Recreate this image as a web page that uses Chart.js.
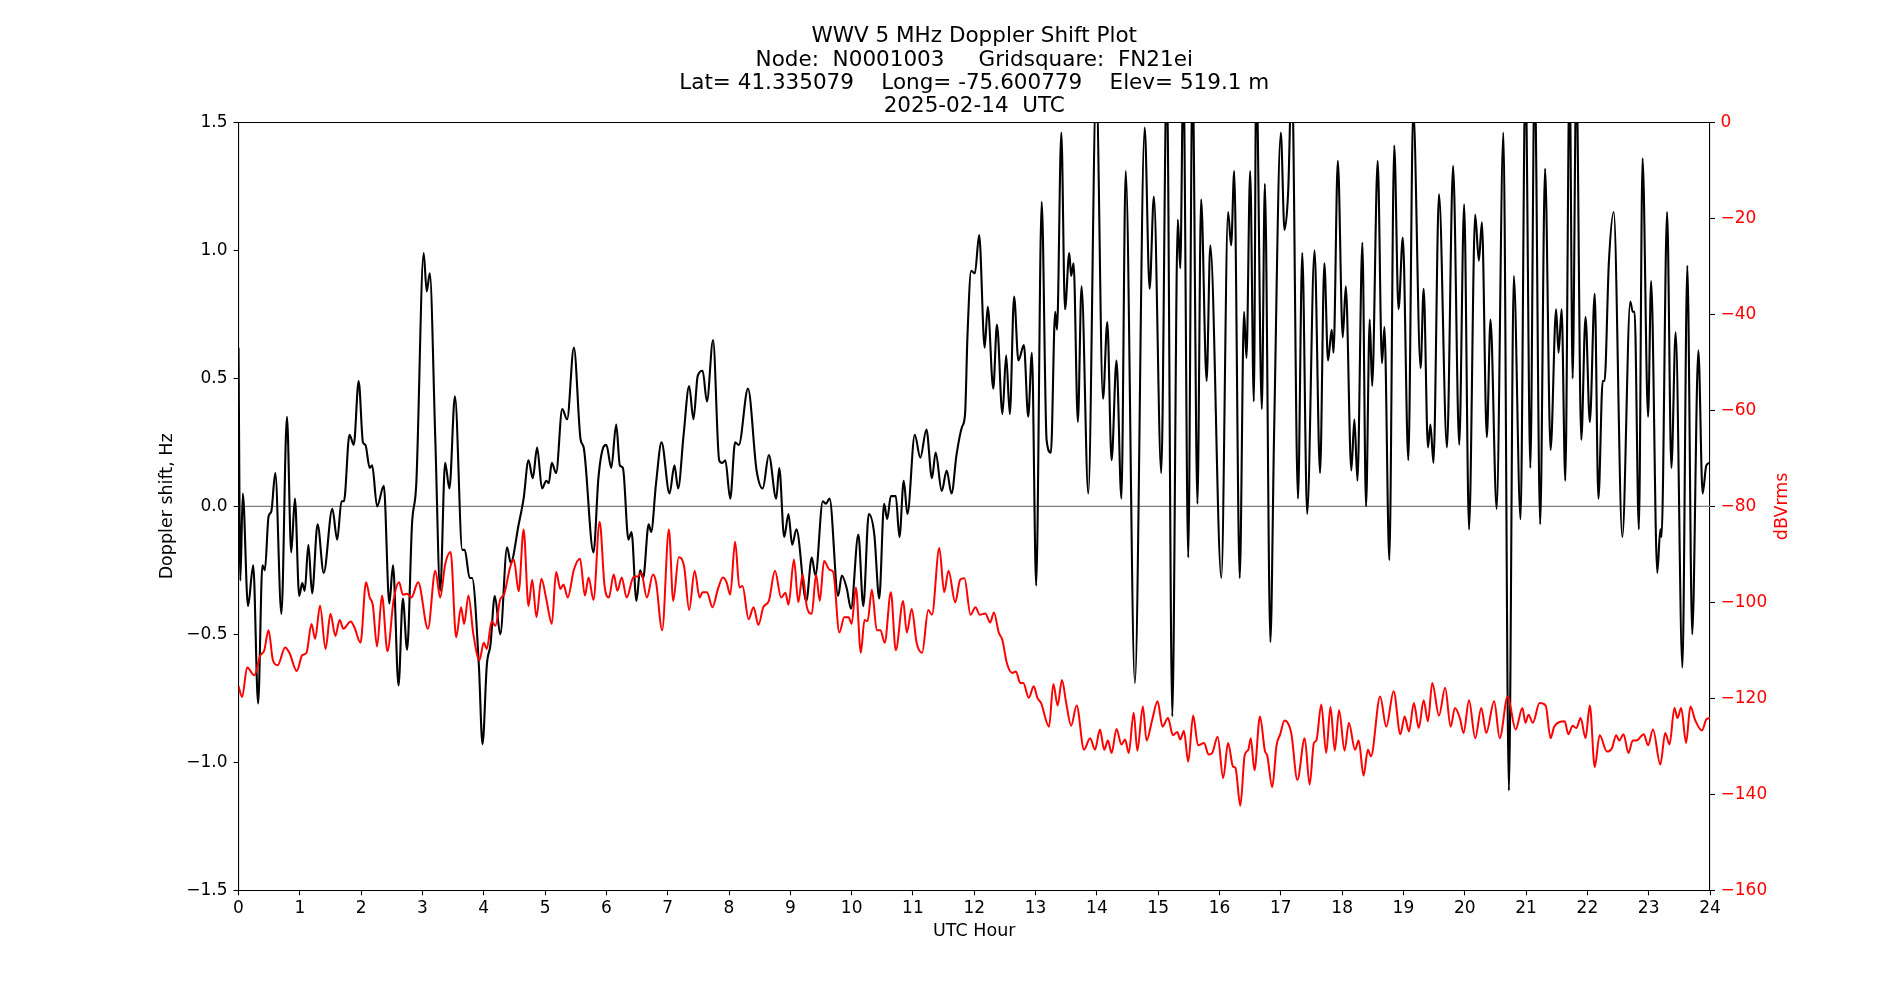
<!DOCTYPE html>
<html lang="en">
<head>
    <meta charset="UTF-8">
    <title>WWV 5 MHz Doppler Shift Plot</title>
    <script src="https://cdn.jsdelivr.net/npm/chart.js"></script>
    <style>
        body {
            margin: 0;
            background: #ffffff;
            overflow: hidden;
        }
        canvas {
            display: block;
        }
    </style>
</head>
<body>
    <canvas id="dopplerChart" width="1900" height="1000"></canvas>

    <script>
        // --- Data ---
        const titleLines = [
            'WWV 5 MHz Doppler Shift Plot',
            'Node:  N0001003     Gridsquare:  FN21ei',
            'Lat= 41.335079    Long= -75.600779    Elev= 519.1 m',
            '2025-02-14  UTC'
        ];
        const xAxisLabel = 'UTC Hour';
        const leftAxisLabel = 'Doppler shift, Hz';
        const rightAxisLabel = 'dBVrms';

        const dopplerHours = [
            0.00, 0.03, 0.07, 0.155, 0.24, 0.32, 0.39, 0.43, 0.49, 0.535, 0.60, 0.70, 0.79, 0.86, 0.92, 0.99,
            1.04, 1.08, 1.14, 1.20, 1.29, 1.39, 1.53, 1.61, 1.68, 1.72, 1.81, 1.88, 1.96,
            2.03, 2.07, 2.14, 2.18, 2.26, 2.37, 2.46, 2.52, 2.61, 2.68, 2.75, 2.83, 2.90,
            3.02, 3.07, 3.12, 3.21, 3.29, 3.37, 3.44, 3.53, 3.65, 3.69, 3.77, 3.81, 3.92, 3.98,
            4.05, 4.11, 4.18, 4.27, 4.38, 4.44, 4.57, 4.65, 4.73, 4.80, 4.87, 4.95,
            5.02, 5.06, 5.11, 5.18, 5.28, 5.36, 5.47, 5.58, 5.63, 5.79, 5.87, 5.95,
            6.00, 6.08, 6.16, 6.22, 6.27, 6.36, 6.41, 6.49, 6.55, 6.60, 6.69, 6.73, 6.81, 6.90,
            7.03, 7.11, 7.17, 7.26, 7.35, 7.42, 7.49, 7.57, 7.64, 7.74, 7.84, 7.89, 7.94,
            8.02, 8.10, 8.16, 8.31, 8.45, 8.55, 8.65, 8.77, 8.82, 8.90, 8.97,
            9.03, 9.10, 9.26, 9.35, 9.41, 9.53, 9.58, 9.64, 9.78, 9.84, 9.92, 9.99,
            10.11, 10.19, 10.28, 10.37, 10.45, 10.53, 10.58, 10.64, 10.72, 10.78, 10.85, 10.91,
            11.03, 11.12, 11.22, 11.31, 11.37, 11.47, 11.55, 11.63, 11.71, 11.80, 11.85, 11.89, 11.95,
            12.01, 12.08, 12.17, 12.22, 12.31, 12.37, 12.46, 12.52, 12.58, 12.65, 12.72, 12.81, 12.88, 12.94,
            13.01, 13.10, 13.18, 13.25, 13.32, 13.35, 13.42, 13.48, 13.55, 13.58, 13.62, 13.69, 13.75, 13.86, 13.99,
            14.10, 14.17, 14.24, 14.32, 14.40, 14.47, 14.62, 14.78, 14.86, 14.93,
            15.05, 15.14, 15.23, 15.32, 15.36, 15.41, 15.49, 15.56, 15.64, 15.70, 15.79, 15.85,
            16.03, 16.14, 16.19, 16.24, 16.33, 16.40, 16.44, 16.50, 16.56, 16.60, 16.69, 16.74, 16.83, 16.89,
            17.00, 17.06, 17.12, 17.18, 17.28, 17.35, 17.43, 17.55, 17.64, 17.71, 17.77, 17.83, 17.86, 17.93,
            18.01, 18.06, 18.15, 18.20, 18.25, 18.33, 18.39, 18.45, 18.49, 18.58, 18.65, 18.69, 18.77, 18.85, 18.92, 18.99,
            19.08, 19.16, 19.28, 19.33, 19.40, 19.44, 19.49, 19.58, 19.71, 19.81, 19.91, 19.99,
            20.07, 20.17, 20.23, 20.28, 20.36, 20.42, 20.52, 20.63, 20.72, 20.80, 20.91, 20.99,
            21.07, 21.14, 21.23, 21.31, 21.40, 21.49, 21.53, 21.58, 21.64, 21.71, 21.76, 21.82, 21.90, 21.97,
            22.04, 22.12, 22.18, 22.25, 22.28, 22.35, 22.43, 22.57, 22.70, 22.74, 22.77, 22.84, 22.90, 22.99,
            23.04, 23.14, 23.19, 23.21, 23.30, 23.37, 23.44, 23.55, 23.63, 23.71, 23.81, 23.88, 23.94, 24.00
        ];
        const dopplerHz = [
            0.62, -0.29, 0.05, -0.39, -0.23, -0.77, -0.23, -0.25, -0.04, -0.02, 0.13, -0.42, 0.35, -0.18, 0.03, -0.35,
            -0.30, -0.33, -0.15, -0.34, -0.07, -0.26, -0.01, -0.13, 0.02, 0.02, 0.28, 0.24, 0.49,
            0.25, 0.24, 0.15, 0.16, 0.00, 0.08, -0.38, -0.23, -0.70, -0.36, -0.56, -0.07, 0.09,
            0.99, 0.84, 0.91, 0.26, -0.33, 0.17, 0.07, 0.43, -0.17, -0.17, -0.28, -0.28, -0.62, -0.93,
            -0.62, -0.54, -0.35, -0.50, -0.16, -0.22, -0.07, 0.03, 0.18, 0.11, 0.23, 0.07,
            0.10, 0.09, 0.17, 0.13, 0.38, 0.34, 0.62, 0.26, 0.23, -0.18, 0.11, 0.23,
            0.24, 0.15, 0.32, 0.16, 0.15, -0.13, -0.10, -0.37, -0.25, -0.28, -0.07, -0.10, 0.09, 0.25,
            0.05, 0.16, 0.07, 0.28, 0.47, 0.34, 0.51, 0.53, 0.41, 0.65, 0.18, 0.17, 0.18,
            0.03, 0.25, 0.24, 0.46, 0.14, 0.07, 0.20, 0.03, 0.15, -0.12, -0.03,
            -0.15, -0.09, -0.37, -0.20, -0.27, 0.02, 0.01, 0.03, -0.35, -0.27, -0.32, -0.40,
            -0.11, -0.39, -0.03, -0.11, -0.36, 0.01, -0.05, 0.04, 0.04, -0.12, 0.10, -0.03,
            0.28, 0.19, 0.30, 0.11, 0.21, 0.06, 0.14, 0.05, 0.20, 0.31, 0.36, 0.67, 0.92,
            0.91, 1.06, 0.62, 0.78, 0.46, 0.71, 0.36, 0.59, 0.36, 0.82, 0.57, 0.63, 0.35, 0.60,
            -0.31, 1.19, 0.26, 0.21, 0.76, 0.69, 1.46, 0.77, 0.99, 0.90, 0.95, 0.33, 0.86, 0.05, 1.65,
            0.42, 0.72, 0.18, 0.57, 0.03, 1.31, -0.69, 1.48, 0.85, 1.21,
            0.13, 1.70, -0.82, 1.12, 0.93, 1.70, -0.20, 1.70, 0.01, 1.20, 0.49, 1.02,
            -0.28, 1.15, 1.02, 1.31, -0.28, 0.76, 0.58, 1.31, 0.41, 1.70, 0.38, 1.26, -0.53, 0.28,
            1.46, 1.08, 1.23, 1.70, 0.03, 0.99, -0.03, 1.00, 0.13, 0.95, 0.57, 0.69, 0.60, 1.35,
            0.66, 0.86, 0.14, 0.34, 0.10, 1.03, 0.00, 0.73, 0.47, 1.35, 0.56, 0.70, -0.21, 1.41, 0.77, 1.05,
            0.18, 1.55, 0.54, 0.85, 0.23, 0.32, 0.17, 1.22, 0.23, 1.33, 0.24, 1.18,
            -0.09, 1.14, 0.96, 1.11, 0.27, 0.73, -0.01, 1.46, -1.11, 0.90, -0.05, 1.70,
            0.15, 1.70, -0.07, 1.32, 0.22, 0.77, 0.60, 0.77, 0.10, 1.70, 0.50, 1.70, 0.26, 0.74,
            0.33, 0.83, 0.03, 0.49, 0.49, 0.95, 1.15, -0.12, 0.80, 0.76, 0.76, -0.09, 1.36, 0.35,
            0.88, -0.26, -0.09, -0.12, 1.15, 0.15, 0.68, -0.63, 0.94, -0.50, 0.61, 0.05, 0.16, 0.17
        ];

        const powerHours = [
            0.00, 0.06, 0.14, 0.26, 0.35, 0.42, 0.49, 0.56, 0.64, 0.76, 0.83, 0.95,
            1.04, 1.11, 1.19, 1.25, 1.33, 1.42, 1.50, 1.58, 1.65, 1.71, 1.83, 1.89, 1.99,
            2.08, 2.14, 2.19, 2.26, 2.34, 2.43, 2.53, 2.62, 2.68, 2.75, 2.82, 2.93,
            3.09, 3.21, 3.29, 3.37, 3.46, 3.55, 3.63, 3.68, 3.75, 3.83, 3.93,
            4.00, 4.05, 4.13, 4.19, 4.27, 4.33, 4.43, 4.49, 4.57, 4.65, 4.73, 4.79, 4.86, 4.94,
            5.02, 5.11, 5.18, 5.25, 5.30, 5.37, 5.47, 5.57, 5.65, 5.71, 5.79, 5.89, 5.97,
            6.04, 6.12, 6.18, 6.25, 6.33, 6.44, 6.51, 6.57, 6.66, 6.76, 6.81, 6.91,
            7.02, 7.09, 7.18, 7.27, 7.35, 7.44, 7.52, 7.57, 7.64, 7.73, 7.82, 7.90, 7.96,
            8.02, 8.10, 8.17, 8.22, 8.32, 8.40, 8.48, 8.56, 8.65, 8.75, 8.85, 8.92, 8.97,
            9.06, 9.13, 9.20, 9.27, 9.35, 9.42, 9.48, 9.55, 9.64, 9.70, 9.80, 9.88, 9.95,
            10.00, 10.07, 10.15, 10.21, 10.26, 10.33, 10.41, 10.47, 10.54, 10.64, 10.72, 10.84, 10.90, 10.98,
            11.06, 11.15, 11.25, 11.31, 11.43, 11.51, 11.58, 11.69, 11.77, 11.84, 11.94,
            12.02, 12.09, 12.18, 12.26, 12.32, 12.40, 12.46, 12.53, 12.62, 12.68, 12.75, 12.80, 12.89, 12.97,
            13.03, 13.09, 13.22, 13.29, 13.36, 13.43, 13.50, 13.58, 13.67, 13.79, 13.89, 13.97,
            14.05, 14.12, 14.18, 14.24, 14.32, 14.40, 14.46, 14.52, 14.60, 14.66, 14.75, 14.81, 14.90, 14.99,
            15.07, 15.16, 15.24, 15.31, 15.36, 15.42, 15.49, 15.57, 15.65, 15.75, 15.82, 15.88, 15.97,
            16.06, 16.14, 16.22, 16.26, 16.34, 16.41, 16.47, 16.51, 16.57, 16.66, 16.74, 16.78, 16.86, 16.93, 16.99,
            17.06, 17.17, 17.27, 17.39, 17.47, 17.54, 17.58, 17.66, 17.74, 17.81, 17.88, 17.95,
            18.04, 18.11, 18.21, 18.27, 18.35, 18.42, 18.47, 18.62, 18.72, 18.84, 18.95,
            19.02, 19.09, 19.17, 19.25, 19.33, 19.40, 19.47, 19.58, 19.68, 19.77, 19.84, 19.92, 19.98,
            20.07, 20.17, 20.27, 20.35, 20.48, 20.57, 20.70, 20.83, 20.94, 20.99,
            21.04, 21.11, 21.22, 21.32, 21.40, 21.46, 21.63, 21.69, 21.76, 21.82, 21.89, 21.97,
            22.04, 22.12, 22.20, 22.32, 22.40, 22.47, 22.52, 22.59, 22.67, 22.74, 22.80, 22.92, 22.99,
            23.07, 23.19, 23.27, 23.34, 23.42, 23.47, 23.53, 23.61, 23.68, 23.76, 23.87, 23.94, 24.00
        ];
        const powerDb = [
            -117.5, -119.7, -113.6, -115.2, -111.2, -110.0, -105.8, -112.0, -113.1, -109.4, -110.5, -114.3,
            -111.0, -110.5, -104.5, -107.6, -100.7, -109.7, -102.4, -107.0, -103.7, -105.5, -104.0, -105.2, -108.4,
            -95.8, -99.0, -100.5, -109.2, -98.6, -110.2, -99.5, -95.8, -98.4, -98.2, -99.0, -95.8,
            -105.5, -93.4, -99.0, -92.1, -89.5, -107.3, -101.0, -104.5, -98.6, -106.6, -112.0,
            -108.4, -109.7, -103.9, -104.9, -99.3, -98.4, -92.7, -91.1, -97.7, -84.8, -100.8, -95.3, -103.1, -95.1,
            -99.3, -104.5, -93.7, -97.2, -96.3, -99.0, -93.2, -90.9, -98.6, -94.8, -99.5, -83.2, -96.5,
            -99.0, -94.2, -97.6, -94.8, -99.0, -94.8, -94.6, -93.9, -99.0, -94.2, -95.8, -105.8,
            -84.8, -99.7, -90.6, -92.7, -101.6, -93.4, -99.0, -97.9, -97.9, -101.0, -97.2, -94.8, -95.8,
            -98.4, -87.4, -96.9, -96.6, -103.5, -101.0, -104.7, -101.0, -99.7, -93.4, -99.0, -98.0, -100.5,
            -91.1, -100.0, -94.2, -101.0, -102.4, -94.2, -99.7, -91.4, -93.2, -93.7, -106.3, -103.1, -103.1,
            -104.5, -96.9, -110.5, -103.7, -103.9, -97.4, -105.8, -105.8, -108.4, -97.9, -110.0, -99.7, -106.3, -101.4,
            -108.4, -110.5, -101.6, -102.6, -88.7, -97.9, -93.4, -100.0, -95.3, -95.0, -102.6,
            -101.0, -102.6, -102.3, -104.2, -102.1, -106.3, -107.9, -112.6, -114.7, -114.4, -116.8, -116.8, -119.9, -117.5,
            -119.9, -121.0, -125.9, -117.0, -121.5, -116.2, -121.0, -125.7, -121.5, -130.7, -128.3, -130.7,
            -126.5, -130.7, -128.8, -131.4, -126.4, -129.6, -128.6, -131.4, -123.0, -130.9, -121.7, -128.8, -124.6, -120.6,
            -125.9, -124.1, -127.7, -127.0, -128.6, -126.8, -133.2, -123.6, -129.8, -129.3, -131.7, -131.4, -128.0,
            -136.6, -129.3, -134.2, -134.5, -142.4, -131.9, -130.7, -128.3, -135.0, -123.8, -130.9, -132.0, -138.5, -129.8, -127.5,
            -124.6, -127.2, -137.0, -128.3, -138.0, -129.3, -128.8, -121.3, -131.4, -121.8, -130.9, -122.5,
            -130.9, -125.1, -130.7, -128.8, -136.1, -130.7, -132.1, -119.6, -125.9, -118.5, -127.5,
            -123.8, -126.9, -121.0, -126.2, -120.4, -124.8, -116.8, -123.6, -117.8, -125.9, -122.0, -124.1, -127.2,
            -120.4, -128.3, -122.0, -127.2, -120.6, -128.3, -119.6, -126.5, -122.0, -125.1,
            -123.4, -125.1, -121.0, -121.5, -128.3, -125.9, -124.8, -127.5, -125.7, -126.2, -124.1, -128.3,
            -121.5, -134.3, -127.7, -131.1, -130.4, -127.7, -128.8, -127.5, -131.4, -128.8, -128.8, -127.5, -129.8,
            -126.5, -133.8, -127.2, -129.6, -122.0, -124.1, -122.0, -129.3, -121.7, -124.6, -126.7, -124.4, -124.1
        ];

        // --- Chart setup ---
        const FONT = "'DejaVu Sans', sans-serif";
        Chart.defaults.font.family = FONT;
        Chart.defaults.color = '#000000';

        const toPoints = (xs, ys) => xs.map((x, i) => ({ x: x, y: ys[i] }));
        const fmtMinus = (v, digits) => (v < 0 ? '\u2212' : '') + Math.abs(v).toFixed(digits);

        // matplotlib puts the twin-axis label reading bottom-to-top, so draw it ourselves
        const rightLabelPlugin = {
            id: 'rightLabel',
            afterDraw(chart) {
                const { ctx, chartArea } = chart;
                ctx.save();
                ctx.translate(chartArea.right + 72.5, (chartArea.top + chartArea.bottom) / 2);
                ctx.rotate(-Math.PI / 2);
                ctx.fillStyle = '#ff0000';
                ctx.font = '17.5px ' + FONT;
                ctx.textAlign = 'center';
                ctx.textBaseline = 'middle';
                ctx.fillText(rightAxisLabel, 0, 0);
                ctx.restore();
            }
        };

        const ctx = document.getElementById('dopplerChart').getContext('2d');
        const chart = new Chart(ctx, {
            type: 'line',
            data: {
                datasets: [
                    {
                        label: 'dBVrms',
                        data: toPoints(powerHours, powerDb),
                        yAxisID: 'y2',
                        borderColor: '#ff0000',
                        borderWidth: 2,
                        pointRadius: 0,
                        cubicInterpolationMode: 'monotone',
                        order: 0
                    },
                    {
                        label: 'Doppler shift',
                        data: toPoints(dopplerHours, dopplerHz),
                        yAxisID: 'y',
                        borderColor: '#000000',
                        borderWidth: 2.1,
                        pointRadius: 0,
                        cubicInterpolationMode: 'monotone',
                        order: 1
                    },
                    {
                        label: 'zero',
                        data: [{ x: 0, y: 0 }, { x: 24, y: 0 }],
                        yAxisID: 'y',
                        borderColor: '#808080',
                        borderWidth: 1.2,
                        pointRadius: 0,
                        order: 2
                    }
                ]
            },
            options: {
                responsive: false,
                animation: false,
                devicePixelRatio: 1,
                layout: { padding: { left: 152.5, right: 90, top: 0, bottom: 54.1 } },
                plugins: {
                    legend: { display: false },
                    tooltip: { enabled: false },
                    title: {
                        display: true,
                        fullSize: false,
                        text: titleLines,
                        color: '#000000',
                        font: { size: 21.5, weight: 'normal', lineHeight: 23.3 / 21.5 },
                        padding: { top: 25.2, bottom: 4 }
                    }
                },
                scales: {
                    x: {
                        type: 'linear',
                        position: 'bottom',
                        min: 0,
                        max: 24,
                        afterFit: (s) => { s.height = 55.6; },
                        ticks: { stepSize: 1, autoSkip: false, maxRotation: 0, padding: 3.5, color: '#000', font: { size: 17 } },
                        grid: { drawOnChartArea: false, drawTicks: true, tickLength: 5, color: '#000', tickWidth: 1.1 },
                        border: { display: true, color: '#000', width: 1.1 },
                        title: { display: true, text: xAxisLabel, color: '#000', font: { size: 17.5 }, padding: { top: 0, bottom: 4 } }
                    },
                    xTop: {
                        type: 'linear',
                        position: 'top',
                        min: 0,
                        max: 24,
                        afterFit: (s) => { s.height = 0; },
                        ticks: { display: false },
                        grid: { drawOnChartArea: false, drawTicks: false },
                        border: { display: true, color: '#000', width: 1.1 }
                    },
                    y: {
                        type: 'linear',
                        position: 'left',
                        min: -1.5,
                        max: 1.5,
                        afterFit: (s) => { s.width = 86; },
                        ticks: { stepSize: 0.5, padding: 6, color: '#000', font: { size: 17 }, callback: (v) => fmtMinus(v, 1) },
                        grid: { drawOnChartArea: false, drawTicks: true, tickLength: 5, color: '#000', tickWidth: 1.1 },
                        border: { display: true, color: '#000', width: 1.1 },
                        title: { display: true, text: leftAxisLabel, color: '#000', font: { size: 17.5 }, padding: { top: 4, bottom: 4 } }
                    },
                    y2: {
                        type: 'linear',
                        position: 'right',
                        min: -160,
                        max: 0,
                        afterFit: (s) => { s.width = 100; },
                        ticks: { stepSize: 20, padding: 5.5, color: '#ff0000', font: { size: 17 }, callback: (v) => fmtMinus(v, 0) },
                        grid: { drawOnChartArea: false, drawTicks: true, tickLength: 5, color: '#000', tickWidth: 1.1 },
                        border: { display: true, color: '#000', width: 1.1 }
                    }
                }
            },
            plugins: [rightLabelPlugin]
        });
    </script>
</body>
</html>
